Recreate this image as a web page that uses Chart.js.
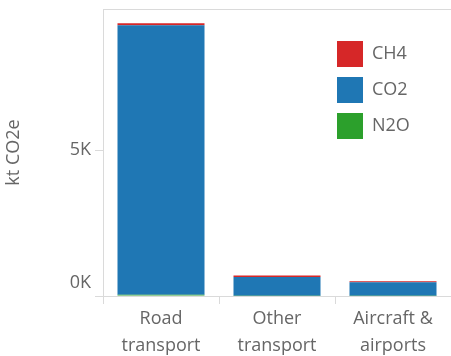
<!DOCTYPE html>
<html>
<head>
<meta charset="utf-8">
<script src="https://cdn.jsdelivr.net/npm/chart.js@4/dist/chart.umd.min.js"></script>
<style>
  body { margin: 0; background: #fff; }
  #wrap { width: 451px; height: 356px; }
</style>
</head>
<body>
<div id="wrap"><canvas id="emissions" width="451" height="356"></canvas></div>
<script>
var categories = [["Road", "transport"], ["Other", "transport"], ["Aircraft &", "airports"]];
var ch4Values = [65, 45, 30];
var co2Values = [9230, 650, 470];
var n2oValues = [45, 5, 5];
var yTicks = [0, 5000];
var yMax = 9830;

var AxisGray = "#dadada";
var TextGray = "#666666";

Chart.defaults.font.family = "'Open Sans', sans-serif";
Chart.defaults.font.size = 18;
Chart.defaults.color = TextGray;

// legend sits inside the plot, top right
var legendInside = {
  id: "legendInside",
  afterLayout: function(chart) {
    var lg = chart.legend;
    lg.left = 327;
    lg.right = lg.left + lg.width;
    lg.top = 31;
    lg.bottom = lg.top + 200;
  }
};

new Chart("emissions", {
  type: "bar",
  data: {
    labels: categories,
    datasets: [
      { label: "N2O", data: n2oValues, backgroundColor: "#2ca02c" },
      { label: "CO2", data: co2Values, backgroundColor: "#1f77b4" },
      { label: "CH4", data: ch4Values, backgroundColor: "#d62728" }
    ]
  },
  options: {
    responsive: false,
    animation: false,
    layout: { padding: { left: 0, top: 9, right: -3, bottom: 0 } },
    datasets: { bar: { categoryPercentage: 1, barPercentage: 0.75 } },
    plugins: {
      legend: {
        position: "chartArea",
        align: "start",
        reverse: true,
        labels: { boxWidth: 26, boxHeight: 26, padding: 10, color: TextGray, font: { size: 18 } }
      },
      tooltip: { enabled: false }
    },
    scales: {
      x: {
        stacked: true,
        grid: { offset: true, drawOnChartArea: false, tickLength: 8, color: AxisGray },
        border: { color: AxisGray },
        ticks: { padding: 1, font: { size: 18, lineHeight: 1.5 } },
        afterFit: function(scale) { scale.height = 60; }
      },
      y: {
        stacked: true,
        min: 0,
        max: yMax,
        afterBuildTicks: function(scale) {
          scale.ticks = yTicks.concat([yMax]).map(function(v) { return { value: v }; });
        },
        grid: {
          tickLength: 8,
          color: function(ctx) { return ctx.tick && ctx.tick.value === yMax ? AxisGray : "rgba(0,0,0,0)"; },
          tickColor: function(ctx) { return ctx.tick && ctx.tick.value === yMax ? "rgba(0,0,0,0)" : AxisGray; }
        },
        border: { color: AxisGray },
        ticks: {
          padding: 4,
          font: function(ctx) {
            // bottom label sits above its tick, top one is empty
            var v = ctx.tick ? ctx.tick.value : null;
            return { size: 18, lineHeight: v === 0 ? 1.5 : (v === yMax ? 0.1 : 1) };
          },
          callback: function(v) {
            if (v === 0) return ["0K", ""];
            if (v === yMax) return "";
            return (v / 1000) + "K";
          }
        },
        title: { display: true, text: "kt CO2e", padding: { top: 3, bottom: 0 }, font: { size: 18 } },
        afterFit: function(scale) { scale.width = 103; }
      }
    }
  },
  plugins: [legendInside]
});
</script>
</body>
</html>
